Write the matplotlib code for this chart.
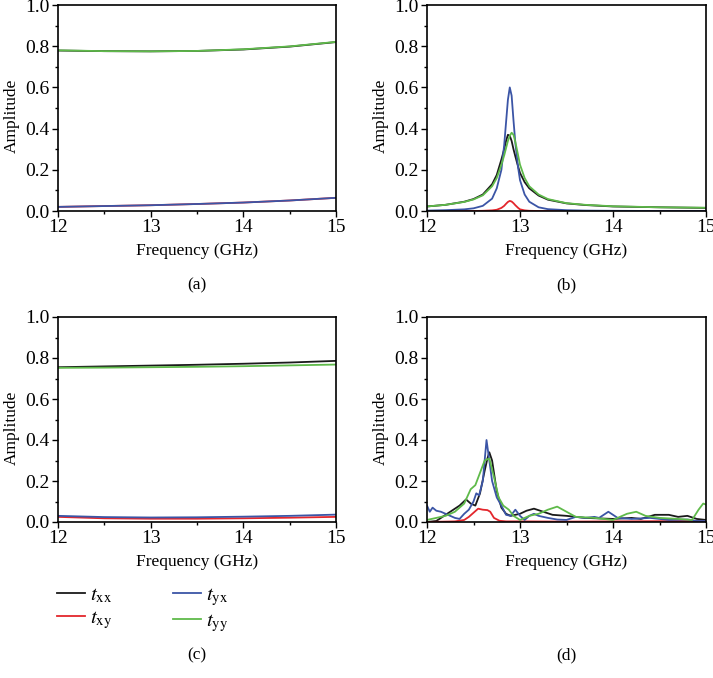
import matplotlib.pyplot as plt
from matplotlib.ticker import MultipleLocator

plt.rcParams['font.family'] = ['Liberation Serif', 'DejaVu Serif']
plt.rcParams['mathtext.fontset'] = 'stix'
plt.rcParams['font.size'] = 11

C_XX = '#1a1a1a'
C_XY = '#e3262c'
C_YX = '#3b55a6'
C_YY = '#5fba4a'

# (a)
fa = [12.0, 12.5, 13.0, 13.5, 14.0, 14.5, 15.0]
a_txx = [0.779, 0.776, 0.775, 0.777, 0.784, 0.798, 0.820]
a_txy = [0.020, 0.024, 0.028, 0.034, 0.041, 0.051, 0.064]
a_tyx = [0.020, 0.024, 0.028, 0.034, 0.041, 0.051, 0.064]
a_tyy = [0.780, 0.776, 0.775, 0.777, 0.785, 0.799, 0.821]

# (b)
fb = [12.0, 12.2, 12.4, 12.5, 12.6, 12.7, 12.75, 12.8, 12.83, 12.85, 12.87, 12.89,
      12.91, 12.93, 12.95, 12.98, 13.0, 13.05, 13.1, 13.2, 13.3, 13.5, 13.7,
      14.0, 14.5, 15.0]
b_txx = [0.022, 0.030, 0.045, 0.058, 0.080, 0.130, 0.175, 0.250, 0.300, 0.340, 0.370,
         0.365, 0.340, 0.300, 0.265, 0.215, 0.185, 0.140, 0.110, 0.075, 0.055, 0.037,
         0.029, 0.022, 0.018, 0.015]
b_txy = [0.0, 0.0, 0.0, 0.0, 0.001, 0.003, 0.006, 0.015, 0.025, 0.035, 0.044, 0.049,
         0.046, 0.038, 0.028, 0.015, 0.008, 0.003, 0.001, 0.0, 0.0, 0.0, 0.0, 0.0,
         0.0, 0.0]
b_tyx = [0.002, 0.004, 0.008, 0.013, 0.025, 0.060, 0.110, 0.200, 0.320, 0.430, 0.540,
         0.600, 0.560, 0.440, 0.330, 0.210, 0.150, 0.080, 0.045, 0.018, 0.009, 0.004,
         0.002, 0.001, 0.0, 0.0]
b_tyy = [0.022, 0.030, 0.044, 0.056, 0.076, 0.120, 0.160, 0.225, 0.270, 0.305, 0.340,
         0.365, 0.380, 0.370, 0.335, 0.270, 0.225, 0.160, 0.120, 0.080, 0.058, 0.038,
         0.030, 0.023, 0.018, 0.016]

# (c)
fc = [12.0, 12.5, 13.0, 13.5, 14.0, 14.5, 15.0]
c_txx = [0.755, 0.759, 0.763, 0.767, 0.772, 0.778, 0.786]
c_txy = [0.025, 0.018, 0.016, 0.016, 0.018, 0.021, 0.025]
c_tyx = [0.030, 0.024, 0.022, 0.023, 0.026, 0.030, 0.036]
c_tyy = [0.752, 0.753, 0.755, 0.757, 0.760, 0.764, 0.768]

# (d) measured
fd_xx = [12.0, 12.1, 12.15, 12.25, 12.35, 12.42, 12.47, 12.52, 12.57, 12.62, 12.65,
         12.67, 12.7, 12.75, 12.8, 12.85, 12.9, 13.0, 13.07, 13.15, 13.25, 13.35,
         13.5, 13.7, 14.0, 14.2, 14.3, 14.45, 14.6, 14.7, 14.8, 14.9, 15.0]
d_txx = [0.0, 0.005, 0.02, 0.05, 0.08, 0.11, 0.09, 0.08, 0.14, 0.25, 0.31,
         0.34, 0.30, 0.15, 0.07, 0.04, 0.03, 0.04, 0.055, 0.065, 0.05, 0.035,
         0.03, 0.02, 0.015, 0.02, 0.015, 0.035, 0.035, 0.025, 0.03, 0.015, 0.01]
fd_xy = [12.0, 12.3, 12.4, 12.45, 12.5, 12.55, 12.6, 12.65, 12.68, 12.72, 12.78,
         12.85, 13.0, 13.5, 14.0, 14.5, 15.0]
d_txy = [0.0, 0.003, 0.01, 0.025, 0.045, 0.065, 0.06, 0.058, 0.05, 0.02, 0.006,
         0.003, 0.003, 0.002, 0.003, 0.004, 0.005]
fd_yx = [12.0, 12.03, 12.06, 12.1, 12.15, 12.2, 12.25, 12.3, 12.35, 12.4, 12.45,
         12.5, 12.53, 12.56, 12.6, 12.64, 12.67, 12.7, 12.75, 12.8, 12.85, 12.9,
         12.95, 13.0, 13.05, 13.1, 13.15, 13.2, 13.3, 13.4, 13.5, 13.6, 13.7,
         13.8, 13.85, 13.95, 14.05, 14.2, 14.4, 14.6, 14.8, 14.9, 15.0]
d_tyx = [0.08, 0.05, 0.07, 0.055, 0.05, 0.04, 0.03, 0.02, 0.015, 0.04, 0.06,
         0.10, 0.14, 0.13, 0.20, 0.40, 0.30, 0.20, 0.12, 0.08, 0.035, 0.03,
         0.06, 0.03, 0.01, 0.03, 0.04, 0.03, 0.02, 0.012, 0.01, 0.025, 0.02,
         0.025, 0.02, 0.05, 0.02, 0.015, 0.02, 0.01, 0.012, 0.005, 0.005]
fd_yy = [12.0, 12.1, 12.2, 12.3, 12.4, 12.47, 12.52, 12.57, 12.62, 12.67, 12.72,
         12.77, 12.82, 12.88, 12.93, 13.0, 13.1, 13.2, 13.3, 13.4, 13.5, 13.6,
         13.8, 14.0, 14.15, 14.25, 14.35, 14.5, 14.7, 14.85, 14.92, 14.97, 15.0]
d_tyy = [0.01, 0.02, 0.03, 0.05, 0.09, 0.16, 0.18, 0.24, 0.30, 0.31, 0.22,
         0.12, 0.08, 0.06, 0.03, 0.01, 0.03, 0.04, 0.06, 0.075, 0.05, 0.025,
         0.02, 0.01, 0.04, 0.05, 0.03, 0.02, 0.015, 0.01, 0.06, 0.09, 0.085]

fig = plt.figure(figsize=(7.13, 6.78), dpi=100)
W, H = 713, 678


def make_ax(left, right, top, bottom):
    ax = fig.add_axes([left / W, 1 - bottom / H, (right - left) / W, (bottom - top) / H])
    ax.set_xlim(12, 15)
    ax.set_ylim(0, 1.0)
    ax.xaxis.set_major_locator(MultipleLocator(1))
    ax.xaxis.set_minor_locator(MultipleLocator(0.5))
    ax.yaxis.set_major_locator(MultipleLocator(0.2))
    ax.yaxis.set_minor_locator(MultipleLocator(0.1))
    ax.yaxis.set_major_formatter(plt.FormatStrFormatter('%.1f'))
    ax.tick_params(which='major', direction='out', length=4, width=1, labelsize=14, pad=2)
    ax.tick_params(which='minor', direction='out', length=2.5, width=1)
    for s in ax.spines.values():
        s.set_linewidth(1.2)
    ax.set_xlabel('Frequency (GHz)', fontsize=12.5, labelpad=5)
    ax.set_ylabel('Amplitude', fontsize=12.5)
    ax.yaxis.set_label_coords(-0.138, 0.46)
    return ax


lw = 1.3
ax_a = make_ax(58, 336, 5, 211)
ax_a.plot(fa, a_txx, color=C_XX, lw=lw)
ax_a.plot(fa, a_txy, color=C_XY, lw=lw)
ax_a.plot(fa, a_tyx, color=C_YX, lw=lw)
ax_a.plot(fa, a_tyy, color=C_YY, lw=lw)

ax_b = make_ax(427, 706, 5, 211)
ax_b.plot(fb, b_txx, color=C_XX, lw=lw)
ax_b.plot(fb, b_txy, color=C_XY, lw=lw)
ax_b.plot(fb, b_tyx, color=C_YX, lw=lw)
ax_b.plot(fb, b_tyy, color=C_YY, lw=lw)

ax_c = make_ax(58, 336, 317, 522)
l1, = ax_c.plot(fc, c_txx, color=C_XX, lw=lw)
l2, = ax_c.plot(fc, c_txy, color=C_XY, lw=lw)
l3, = ax_c.plot(fc, c_tyx, color=C_YX, lw=lw)
l4, = ax_c.plot(fc, c_tyy, color=C_YY, lw=lw)

ax_d = make_ax(427, 706, 317, 522)
ax_d.plot(fd_xx, d_txx, color=C_XX, lw=lw)
ax_d.plot(fd_xy, d_txy, color=C_XY, lw=lw)
ax_d.plot(fd_yx, d_tyx, color=C_YX, lw=lw)
ax_d.plot(fd_yy, d_tyy, color=C_YY, lw=lw)

fig.legend([l1, l2, l3, l4],
           [r'$t_{\mathrm{xx}}$', r'$t_{\mathrm{xy}}$', r'$t_{\mathrm{yx}}$', r'$t_{\mathrm{yy}}$'],
           ncol=2, loc='upper left', bbox_to_anchor=(57 / W, 1 - 586 / H),
           frameon=False, fontsize=15, handlelength=1.35, handletextpad=0.25,
           columnspacing=2.9, labelspacing=0.15, borderpad=0, borderaxespad=0)

for x, y, s in [(197, 285, '(a)'), (566, 285, '(b)'), (197, 655, '(c)'), (566, 655, '(d)')]:
    fig.text(x / W, 1 - y / H, s, ha='center', va='center', fontsize=12.5)

fig.savefig('out.png', dpi=100)
